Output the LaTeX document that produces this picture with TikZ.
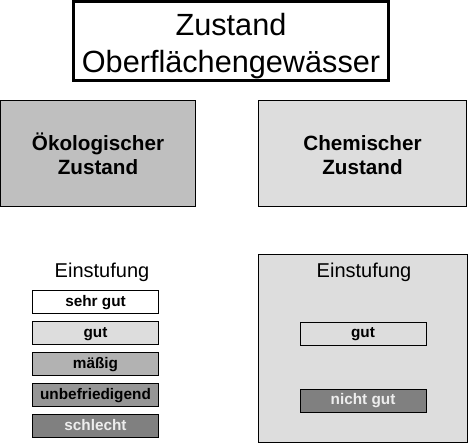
\documentclass[tikz,border=0pt]{standalone}
\usepackage{fontspec}
\setmainfont{Liberation Sans}
\usepackage{tikz}
\definecolor{wgrey}{rgb}{1, 1, 1}
\definecolor{lgrey}{rgb}{0.867, 0.867, 0.867}
\definecolor{mgrey}{rgb}{0.75, 0.75, 0.75}
\definecolor{sgrey}{rgb}{0.7, 0.7, 0.7}
\definecolor{ugrey}{rgb}{0.59, 0.59, 0.59}
\definecolor{dgrey}{rgb}{0.5, 0.5, 0.5}
\definecolor{tgrey}{rgb}{0.93, 0.93, 0.93}
\tikzset{titlebox/.style = {draw, line width = 2.25pt, minimum width = 236.25pt,
                            minimum height = 59.25pt, align = center, inner sep = 0,
                            text height = 51.5pt, text depth = 5pt,
                            font = \fontsize{23}{27.75}\selectfont}}
\tikzset{partbox/.style = {draw, line width = 0.75pt, minimum height = 79.5pt,
                           align = center, inner sep = 0,
                           text height = 30.75pt, text depth = 0pt,
                           font = \fontsize{15.5}{18}\selectfont\bfseries}}
\tikzset{classbox/.style = {draw, line width = 0.75pt, minimum width = 94.5pt,
                            minimum height = 17.25pt, inner sep = 0,
                            text height = 0.8em, text depth = 0.16em,
                            font = \fontsize{11.5}{13}\selectfont\bfseries}}
\tikzset{headline/.style = {anchor = base, inner sep = 0,
                            font = \fontsize{15}{18}\selectfont}}

\begin{document}
\begin{tikzpicture}[x = 0.75pt, y = -0.75pt]
    \useasboundingbox (0, 0) rectangle (469, 444);

    \node [titlebox] (title) at (231, 41) {Zustand\\Oberflächengewässer};

    \node [partbox, fill = mgrey, minimum width = 146.25pt] (oeko) at (98, 153.5) {Ökologischer\\Zustand};
    \node [partbox, fill = lgrey, minimum width = 156pt] (chem) at (362.5, 153.5) {Chemischer\\Zustand};

    \node [draw, line width = 0.75pt, fill = lgrey, minimum width = 156.75pt,
           minimum height = 141pt, inner sep = 0] (chemframe) at (363, 348.5) {};

    \node [headline] (oekohead) at (102, 277) {Einstufung};
    \node [headline] (chemhead) at (364, 277) {Einstufung};

    \node [classbox, fill = wgrey] (sehrgut) at (95.5, 302) {sehr gut};
    \node [classbox, fill = lgrey] (gut) at (95.5, 333) {gut};
    \node [classbox, fill = sgrey] (maessig) at (95.5, 364) {mäßig};
    \node [classbox, fill = ugrey] (unbefr) at (95.5, 395) {unbefriedigend};
    \node [classbox, fill = dgrey, text = tgrey] (schlecht) at (95.5, 426) {schlecht};

    \node [classbox, fill = lgrey] (chemgut) at (363, 333.5) {gut};
    \node [classbox, fill = dgrey, text = tgrey] (nichtgut) at (363, 400.5) {nicht gut};
\end{tikzpicture}
\end{document}
